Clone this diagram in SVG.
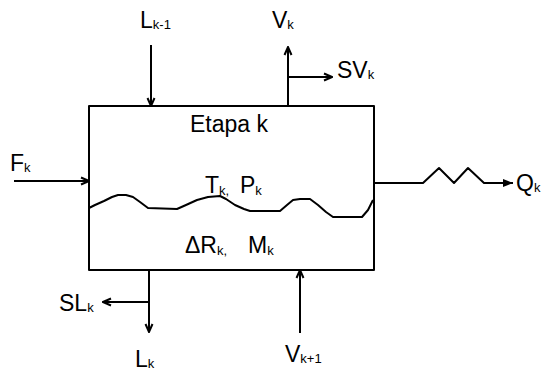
<svg xmlns="http://www.w3.org/2000/svg" width="545" height="372" viewBox="0 0 545 372">
<style>
.t{font-family:"Liberation Sans",Arial,sans-serif;font-size:23px;fill:#000}
.s{font-size:13px;fill:#000}
.ln{fill:none;stroke:#000;stroke-width:2;stroke-linejoin:round;stroke-linecap:butt}
</style>
<defs>
<marker id="a" viewBox="0 0 10 10" refX="9" refY="5" markerWidth="10" markerHeight="10" markerUnits="userSpaceOnUse" orient="auto">
<path d="M1,1.5 L9,5 L1,8.5" fill="none" stroke="#000" stroke-width="2"/>
</marker>
<marker id="f" viewBox="0 0 10 10" refX="10" refY="5" markerWidth="11" markerHeight="10" markerUnits="userSpaceOnUse" orient="auto">
<path d="M0,1 L10,5 L0,9 z" fill="#000"/>
</marker>
</defs>
<rect width="545" height="372" fill="#fff"/>
<g id="stage">
<rect x="89" y="106" width="285" height="164" class="ln"/>
<path class="ln" d="M89,208 L95,205 L104,201 L112,197 L118,195 L126,195 L133,197 L140,202 L148,208 L177,209 L186,205 L197,200 L208,197 L220,196 L226,199 L235,205 L244,209 L250,211 L280,211 L287,205 L293,200 L300,199 L310,199 L318,205 L326,212 L333,217 L362,217 L368,210 L373,200"/>
<text class="t" x="190" y="132">Etapa k</text>
<text class="t" x="205" y="193">T<tspan class="s" dy="2">k,</tspan><tspan dy="-2" x="240">P</tspan><tspan class="s" dy="2">k</tspan></text>
<text class="t" x="185" y="253">ΔR<tspan class="s" dy="2">k,</tspan><tspan dy="-2" x="248">M</tspan><tspan class="s" dy="2">k</tspan></text>
</g>
<g id="connectors">
<line class="ln" x1="151" y1="45" x2="151" y2="106" marker-end="url(#a)"/>
<line class="ln" x1="288" y1="106" x2="288" y2="47" marker-end="url(#a)"/>
<line class="ln" x1="288" y1="77" x2="332" y2="77" marker-end="url(#a)"/>
<line class="ln" x1="14" y1="181" x2="89" y2="181" marker-end="url(#a)"/>
<polyline class="ln" points="374,183 423,183 439,168 454,183 468,168 484,183 513,183" marker-end="url(#f)"/>
<line class="ln" x1="149" y1="270" x2="149" y2="332" marker-end="url(#a)"/>
<line class="ln" x1="149" y1="302" x2="103" y2="302" marker-end="url(#a)"/>
<line class="ln" x1="300" y1="333" x2="300" y2="270" marker-end="url(#a)"/>
</g>
<g id="lbl-Lk-1"><text class="t" x="140" y="28">L<tspan class="s" dy="1">k-1</tspan></text></g>
<g id="lbl-Vk"><text class="t" x="272" y="28">V<tspan class="s" dy="1">k</tspan></text></g>
<g id="lbl-SVk"><text class="t" x="337" y="78">SV<tspan class="s" dy="1">k</tspan></text></g>
<g id="lbl-Fk"><text class="t" x="10" y="171">F<tspan class="s" dy="1">k</tspan></text></g>
<g id="lbl-Qk"><text class="t" x="516" y="191">Q<tspan class="s" dy="1">k</tspan></text></g>
<g id="lbl-SLk"><text class="t" x="59" y="311">SL<tspan class="s" dy="1">k</tspan></text></g>
<g id="lbl-Lk"><text class="t" x="135" y="367">L<tspan class="s" dy="1">k</tspan></text></g>
<g id="lbl-Vk1"><text class="t" x="285" y="362">V<tspan class="s" dy="1">k+1</tspan></text></g>
</svg>
